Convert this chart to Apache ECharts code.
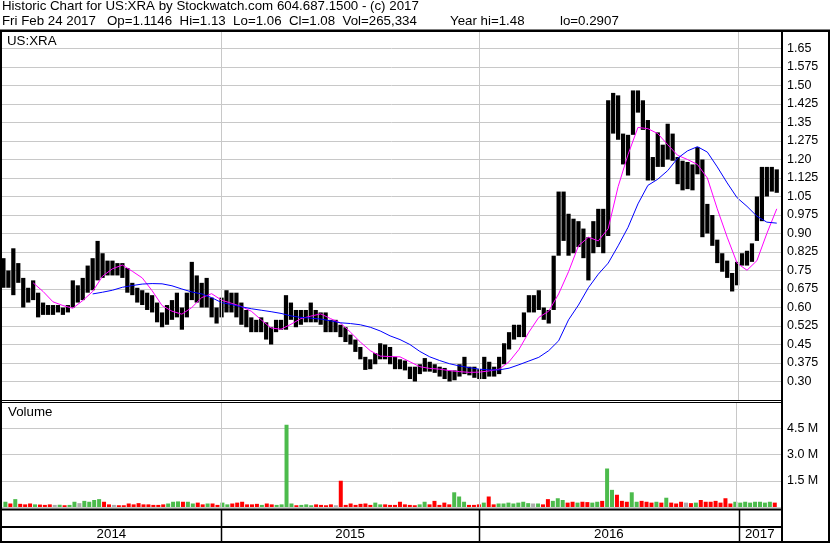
<!DOCTYPE html>
<html>
<head>
<meta charset="utf-8">
<title>Historic Chart for US:XRA</title>
<script src="https://cdn.jsdelivr.net/npm/echarts@6/dist/echarts.min.js"></script>
<style>
html, body { margin: 0; padding: 0; background: #fff; }
#chart { width: 830px; height: 543px; }
</style>
</head>
<body>
<div id="chart"></div>
<script>
// one sample per week, first week ends Fri Feb 28 2014
var firstWeek = Date.UTC(2014, 1, 28)
var DAY = 24 * 3600 * 1000
var WEEK = 7 * DAY

var highs = [
  0.80, 0.75, 0.84, 0.78, 0.72, 0.68, 0.71, 0.66, 0.62, 0.61,
  0.61, 0.61, 0.60, 0.61, 0.71, 0.69, 0.72, 0.77, 0.80, 0.87,
  0.82, 0.79, 0.79, 0.78, 0.78, 0.76, 0.70, 0.68, 0.67, 0.66,
  0.65, 0.62, 0.58, 0.61, 0.63, 0.66, 0.60, 0.66, 0.785, 0.73,
  0.70, 0.72, 0.64, 0.60, 0.64, 0.67, 0.66, 0.66, 0.62, 0.59,
  0.56, 0.55, 0.56, 0.54, 0.52, 0.55, 0.55, 0.65, 0.62, 0.59,
  0.59, 0.59, 0.62, 0.59, 0.58, 0.58, 0.55, 0.55, 0.53, 0.52,
  0.49, 0.47, 0.44, 0.40, 0.39, 0.415, 0.455, 0.45, 0.44, 0.40,
  0.39, 0.385, 0.36, 0.36, 0.37, 0.395, 0.38, 0.37, 0.36, 0.355,
  0.345, 0.345, 0.37, 0.40, 0.36, 0.36, 0.35, 0.40, 0.38, 0.36,
  0.40, 0.455, 0.50, 0.53, 0.53, 0.58, 0.65, 0.65, 0.67, 0.60,
  0.59, 0.81, 1.07, 1.07, 0.98, 0.96, 0.95, 0.92, 0.885, 0.95,
  1.00, 1.00, 1.44, 1.47, 1.46, 1.305, 1.30, 1.48, 1.48, 1.44,
  1.36, 1.21, 1.31, 1.26, 1.345, 1.305, 1.21, 1.195, 1.19, 1.18,
  1.25, 1.20, 1.02, 0.975, 0.875, 0.82, 0.79, 0.74, 0.785, 0.82,
  0.83, 0.86, 1.05, 1.17, 1.17, 1.17, 1.16
]

var lows = [
  0.68, 0.68, 0.65, 0.70, 0.60, 0.62, 0.63, 0.56, 0.57, 0.57,
  0.57, 0.58, 0.57, 0.58, 0.60, 0.62, 0.63, 0.66, 0.67, 0.71,
  0.72, 0.73, 0.73, 0.73, 0.72, 0.66, 0.65, 0.62, 0.61, 0.59,
  0.58, 0.54, 0.52, 0.53, 0.55, 0.56, 0.51, 0.56, 0.63, 0.62,
  0.60, 0.60, 0.56, 0.535, 0.56, 0.58, 0.58, 0.56, 0.53, 0.52,
  0.50, 0.50, 0.50, 0.47, 0.45, 0.50, 0.51, 0.51, 0.55, 0.52,
  0.53, 0.54, 0.54, 0.54, 0.53, 0.50, 0.50, 0.50, 0.48, 0.46,
  0.45, 0.42, 0.39, 0.347, 0.35, 0.37, 0.39, 0.39, 0.37, 0.35,
  0.35, 0.345, 0.31, 0.30, 0.33, 0.34, 0.34, 0.335, 0.32, 0.31,
  0.30, 0.305, 0.32, 0.33, 0.325, 0.315, 0.31, 0.31, 0.32, 0.32,
  0.33, 0.37, 0.43, 0.47, 0.48, 0.48, 0.58, 0.58, 0.59, 0.55,
  0.535, 0.59, 0.81, 0.87, 0.81, 0.82, 0.845, 0.80, 0.71, 0.82,
  0.845, 0.82, 0.89, 1.305, 1.28, 1.18, 1.135, 1.30, 1.39, 1.32,
  1.115, 1.115, 1.17, 1.17, 1.20, 1.195, 1.10, 1.075, 1.08, 1.075,
  1.14, 0.885, 0.90, 0.85, 0.78, 0.745, 0.72, 0.665, 0.69, 0.77,
  0.77, 0.785, 0.87, 0.95, 1.05, 1.07, 1.065
]

// typical daily volume in each week, millions
var volumes = [
  0.30, 0.20, 0.45, 0.18, 0.15, 0.20, 0.15, 0.14, 0.12, 0.15,
  0.12, 0.13, 0.10, 0.12, 0.30, 0.22, 0.35, 0.30, 0.40, 0.45,
  0.30, 0.15, 0.12, 0.10, 0.10, 0.20, 0.15, 0.22, 0.15, 0.15,
  0.12, 0.12, 0.15, 0.20, 0.30, 0.32, 0.30, 0.30, 0.20, 0.25,
  0.15, 0.20, 0.20, 0.12, 0.25, 0.15, 0.20, 0.25, 0.30, 0.15,
  0.15, 0.18, 0.12, 0.20, 0.15, 0.12, 0.15, 4.70, 0.20, 0.10,
  0.12, 0.15, 0.10, 0.15, 0.12, 0.10, 0.15, 0.10, 1.50, 0.12,
  0.20, 0.12, 0.18, 0.20, 0.12, 0.25, 0.15, 0.15, 0.12, 0.12,
  0.30, 0.15, 0.12, 0.10, 0.15, 0.30, 0.15, 0.35, 0.12, 0.25,
  0.15, 0.84, 0.60, 0.30, 0.12, 0.12, 0.15, 0.25, 0.60, 0.15,
  0.20, 0.20, 0.25, 0.20, 0.25, 0.30, 0.22, 0.20, 0.20, 0.15,
  0.45, 0.35, 0.50, 0.40, 0.25, 0.30, 0.25, 0.30, 0.28, 0.25,
  0.30, 0.35, 2.20, 0.98, 0.70, 0.35, 0.30, 0.84, 0.30, 0.35,
  0.30, 0.25, 0.30, 0.25, 0.53, 0.25, 0.20, 0.30, 0.25, 0.22,
  0.25, 0.40, 0.30, 0.30, 0.35, 0.25, 0.50, 0.20, 0.30, 0.25,
  0.30, 0.25, 0.30, 0.30, 0.25, 0.30, 0.25
]

// moving averages read every 2nd week
var maFastStart = 6
var maFast = [
  0.70, 0.665, 0.623, 0.608, 0.597, 0.628, 0.665, 0.727, 0.757, 0.772,
  0.747, 0.72, 0.668, 0.608, 0.585, 0.573, 0.60, 0.64, 0.656, 0.63,
  0.617, 0.604, 0.585, 0.55, 0.517, 0.512, 0.532, 0.555, 0.565, 0.574,
  0.555, 0.537, 0.50, 0.46, 0.425, 0.403, 0.401, 0.40, 0.38, 0.36,
  0.353, 0.35, 0.344, 0.34, 0.337, 0.338, 0.343, 0.35, 0.38, 0.43,
  0.50, 0.56, 0.585, 0.655, 0.745, 0.85, 0.885, 0.87, 0.92, 1.09,
  1.22, 1.33, 1.325, 1.305, 1.26, 1.217, 1.20, 1.18, 1.125, 1.00,
  0.885, 0.78, 0.751, 0.79, 0.90, 1.00
]
var maSlowStart = 18
var maSlow = [
  0.655, 0.662, 0.67, 0.682, 0.689, 0.695, 0.697, 0.696, 0.688, 0.675,
  0.663, 0.655, 0.64, 0.62, 0.612, 0.603, 0.595, 0.589, 0.583, 0.576,
  0.566, 0.56, 0.557, 0.553, 0.546, 0.538, 0.535, 0.53, 0.52, 0.505,
  0.485, 0.47, 0.45, 0.422, 0.40, 0.385, 0.372, 0.363, 0.356, 0.35,
  0.347, 0.347, 0.354, 0.368, 0.383, 0.398, 0.425, 0.465, 0.55, 0.61,
  0.68, 0.735, 0.78, 0.85, 0.925, 1.02, 1.095, 1.12, 1.155, 1.205,
  1.235, 1.252, 1.23, 1.17, 1.105, 1.045, 1.01, 0.97, 0.946, 0.942
]

var years = ['2014', '2015', '2016', '2017']
var xMin = Date.UTC(2014, 1, 26)
var xMax = Date.UTC(2017, 2, 2)

var header1 = 'Historic Chart for US:XRA by Stockwatch.com 604.687.1500 - (c) 2017'
var header2 = 'Fri Feb 24 2017   Op=1.1146  Hi=1.13  Lo=1.06  Cl=1.08  Vol=265,334'
var headerYearHi = 'Year hi=1.48'
var headerYearLo = 'lo=0.2907'

var HEAD_FONT = '13.3px "Liberation Sans", Arial, sans-serif'

function weekDate (i) {
  return firstWeek + i * WEEK
}

const priceData = highs.map((h, i) => [weekDate(i), lows[i], h])
const volData = volumes.map((v, i) => [weekDate(i), v])
const fastData = maFast.map((v, k) => [weekDate(maFastStart + 2 * k), v])
const slowData = maSlow.map((v, k) => [weekDate(maSlowStart + 2 * k), v])

const volColors = highs.map((h, i) => {
  if (i === 0) return '#4cbb4c'
  const now = (h + lows[i]) / 2
  const before = (highs[i - 1] + lows[i - 1]) / 2
  if (now > before) return '#4cbb4c'
  if (now < before) return '#ff0000'
  return '#aaaaaa'
})

const yearData = years.map(y => {
  const s = Math.max(Date.UTC(+y, 0, 1), xMin)
  const e = Math.min(Date.UTC(+y + 1, 0, 1), xMax)
  return [s, e, 0]
})
const yearLines = years.slice(1).map(y => ({ xAxis: Date.UTC(+y, 0, 1) }))

function yearMarkLine () {
  return {
    silent: true,
    symbol: 'none',
    label: { show: false },
    lineStyle: { color: '#c8c8c8', width: 1, type: 'solid' },
    data: yearLines
  }
}

function priceLabel (v) {
  let s = v.toFixed(3)
  if (s.charAt(s.length - 1) === '0') s = s.slice(0, -1)
  return s
}

const myChart = echarts.init(document.getElementById('chart'))

const gridPos = { left: 2, right: 49 }

const option = {
  animation: false,
  backgroundColor: '#fff',
  textStyle: { fontFamily: '"Liberation Sans", Arial, sans-serif' },
  grid: [
    Object.assign({ top: 30, height: 370 }, gridPos),
    Object.assign({ top: 402, height: 105 }, gridPos),
    Object.assign({ top: 510, height: 31 }, gridPos)
  ],
  xAxis: [0, 1, 2].map(g => ({
    type: 'time',
    gridIndex: g,
    min: xMin,
    max: xMax,
    show: false
  })),
  yAxis: [
    {
      type: 'value',
      gridIndex: 0,
      position: 'right',
      min: 0.225,
      max: 1.725,
      interval: 0.075,
      axisLine: { show: false },
      axisTick: { show: false },
      axisLabel: {
        showMinLabel: false,
        showMaxLabel: false,
        margin: 6,
        color: '#000',
        fontSize: 12.5,
        formatter: priceLabel
      },
      splitLine: { lineStyle: { color: '#c8c8c8', width: 1 } }
    },
    {
      type: 'value',
      gridIndex: 1,
      position: 'right',
      min: 0,
      max: 6,
      interval: 1.5,
      axisLine: { show: false },
      axisTick: { show: false },
      axisLabel: {
        showMinLabel: false,
        showMaxLabel: false,
        margin: 6,
        color: '#000',
        fontSize: 12.5,
        formatter: v => v.toFixed(1) + ' M'
      },
      splitLine: { lineStyle: { color: '#c8c8c8', width: 1 } }
    },
    { type: 'value', gridIndex: 2, min: 0, max: 1, show: false }
  ],
  series: [
    {
      // year gridlines behind the bars
      type: 'line',
      xAxisIndex: 0,
      yAxisIndex: 0,
      data: [],
      z: 1,
      markLine: yearMarkLine()
    },
    {
      type: 'line',
      xAxisIndex: 1,
      yAxisIndex: 1,
      data: [],
      z: 1,
      markLine: yearMarkLine()
    },
    {
      name: 'US:XRA',
      type: 'custom',
      xAxisIndex: 0,
      yAxisIndex: 0,
      z: 3,
      encode: { x: 0, y: [1, 2] },
      data: priceData,
      renderItem: function (params, api) {
        const lo = api.coord([api.value(0), api.value(1)])
        const hi = api.coord([api.value(0), api.value(2)])
        const w = api.size([WEEK, 0])[0] * 0.85
        return {
          type: 'rect',
          shape: { x: lo[0] - w / 2, y: hi[1], width: w, height: Math.max(lo[1] - hi[1], 1) },
          style: { fill: '#000' }
        }
      }
    },
    {
      name: 'MA fast',
      type: 'line',
      xAxisIndex: 0,
      yAxisIndex: 0,
      z: 4,
      symbol: 'none',
      data: fastData,
      lineStyle: { color: '#ff00ff', width: 1 }
    },
    {
      name: 'MA slow',
      type: 'line',
      xAxisIndex: 0,
      yAxisIndex: 0,
      z: 4,
      symbol: 'none',
      data: slowData,
      lineStyle: { color: '#0000ff', width: 1 }
    },
    {
      name: 'Volume',
      type: 'bar',
      xAxisIndex: 1,
      yAxisIndex: 1,
      z: 3,
      barWidth: 4,
      data: volData,
      itemStyle: { color: p => volColors[p.dataIndex] }
    },
    {
      type: 'custom',
      xAxisIndex: 2,
      yAxisIndex: 2,
      encode: { x: [0, 1], y: 2 },
      data: yearData,
      renderItem: function (params, api) {
        const s = api.coord([api.value(0), 0])
        const e = api.coord([api.value(1), 0])
        const cs = params.coordSys
        const children = [{
          type: 'text',
          style: {
            text: years[params.dataIndex],
            x: (s[0] + e[0]) / 2,
            y: cs.y + cs.height - 6.5,
            align: 'center',
            verticalAlign: 'middle',
            textAlign: 'center',
            textVerticalAlign: 'middle',
            font: HEAD_FONT,
            fill: '#000'
          }
        }]
        if (params.dataIndex > 0) {
          children.push({
            type: 'line',
            shape: { x1: Math.round(s[0]) + 0.5, y1: cs.y, x2: Math.round(s[0]) + 0.5, y2: cs.y + cs.height },
            style: { stroke: '#000', lineWidth: 1.5 }
          })
        }
        return { type: 'group', children: children }
      }
    }
  ],
  graphic: [
    { type: 'text', left: 2, top: 0, style: { text: header1, font: HEAD_FONT, fill: '#000' } },
    { type: 'text', left: 2, top: 15, style: { text: header2, font: HEAD_FONT, fill: '#000' } },
    { type: 'text', left: 450, top: 15, style: { text: headerYearHi, font: HEAD_FONT, fill: '#000' } },
    { type: 'text', left: 560, top: 15, style: { text: headerYearLo, font: HEAD_FONT, fill: '#000' } },
    { type: 'text', left: 7, top: 35, z: 10, style: { text: 'US:XRA', font: HEAD_FONT, fill: '#000' } },
    { type: 'text', left: 8, top: 406, z: 10, style: { text: 'Volume', font: HEAD_FONT, fill: '#000' } },
    { type: 'rect', z: 100, shape: { x: 0, y: 29.5, width: 830, height: 2.5 }, style: { fill: '#000' } },
    { type: 'rect', z: 100, shape: { x: 0, y: 30, width: 2, height: 513 }, style: { fill: '#000' } },
    { type: 'rect', z: 100, shape: { x: 828, y: 30, width: 2, height: 513 }, style: { fill: '#000' } },
    { type: 'rect', z: 100, shape: { x: 0, y: 541, width: 830, height: 2 }, style: { fill: '#000' } },
    { type: 'rect', z: 100, shape: { x: 781, y: 30, width: 2, height: 513 }, style: { fill: '#000' } },
    { type: 'rect', z: 100, shape: { x: 0, y: 400, width: 781, height: 1 }, style: { fill: '#000' } },
    { type: 'rect', z: 100, shape: { x: 0, y: 402, width: 781, height: 1 }, style: { fill: '#000' } },
    { type: 'rect', z: 100, shape: { x: 0, y: 508.5, width: 781, height: 2 }, style: { fill: '#000' } },
    { type: 'rect', z: 100, shape: { x: 0, y: 526, width: 781, height: 2 }, style: { fill: '#000' } }
  ]
}

myChart.setOption(option)

window.addEventListener('resize', () => {
  myChart.resize()
})
</script>
</body>
</html>
